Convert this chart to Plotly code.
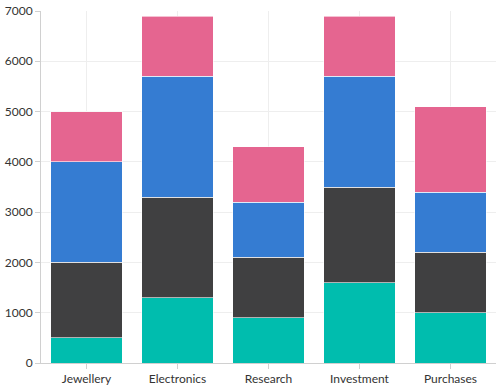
import plotly.graph_objects as go

categories = ["Jewellery", "Electronics", "Research", "Investment", "Purchases"]
series1 = [500, 1300, 900, 1600, 1000]
series2 = [1500, 2000, 1200, 1900, 1200]
series3 = [2000, 2400, 1100, 2200, 1200]
series4 = [1000, 1200, 1100, 1200, 1700]
colors = ["#00BDAE", "#404041", "#357CD2", "#E56590"]

fig = go.Figure()
for vals, c in zip([series1, series2, series3, series4], colors):
    fig.add_trace(go.Bar(x=categories, y=vals, marker=dict(color=c, line=dict(color="rgba(255,255,255,0.6)", width=1))))

fig.update_layout(
    barmode="stack",
    bargap=0.21,
    width=500, height=392,
    margin=dict(l=41, r=4, t=11, b=29),
    paper_bgcolor="white", plot_bgcolor="white",
    showlegend=False,
    font=dict(family="Lato, sans-serif", size=12, color="#333"),
    xaxis=dict(showgrid=True, gridcolor="#EEEEEE", showline=True, linecolor="#D0D0D0", linewidth=1,
               ticks="outside", ticklen=5, tickcolor="#D0D0D0", tickfont=dict(size=12, color="#333")),
    yaxis=dict(range=[0, 7000], dtick=1000, showgrid=True, gridcolor="#EEEEEE", showline=True,
               linecolor="#D0D0D0", linewidth=1, ticks="outside", ticklen=5, tickcolor="#D0D0D0",
               zeroline=False, tickfont=dict(size=12, color="#333")),
)
fig.write_html("out.html", config={"displayModeBar": False},
               post_script="document.body.style.margin='0';")
